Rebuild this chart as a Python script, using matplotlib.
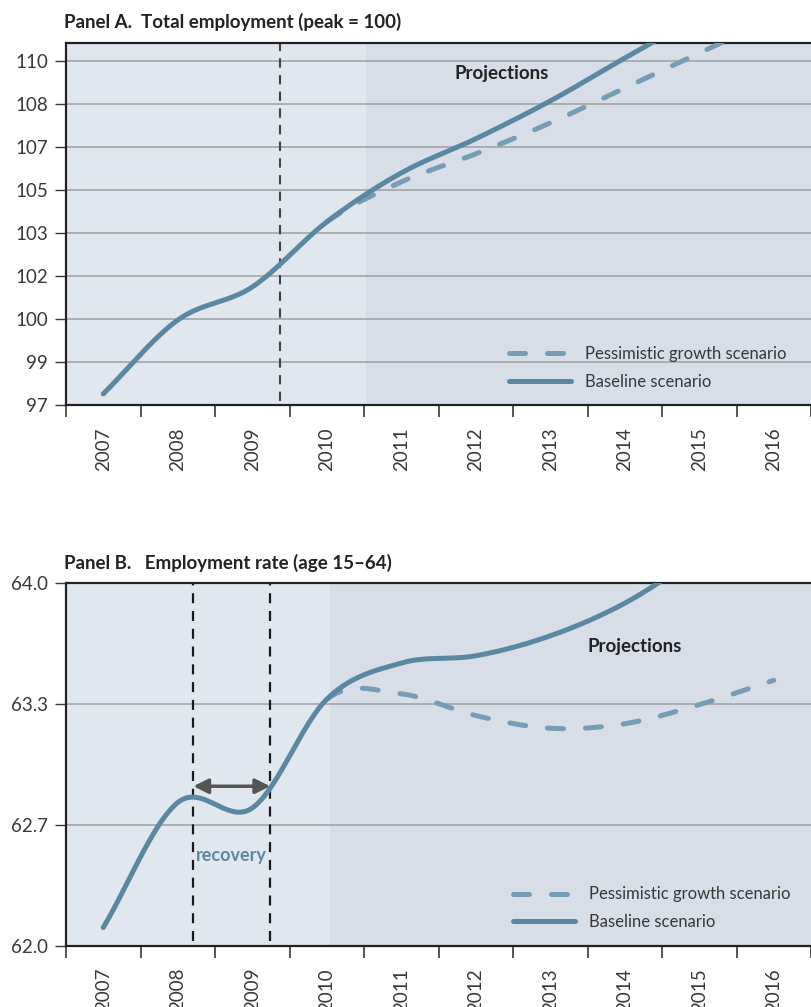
import numpy as np
import matplotlib
matplotlib.use("Agg")
import matplotlib.pyplot as plt

# ---------------- data ----------------
years = [2007, 2008, 2009, 2010, 2011, 2012, 2013, 2014, 2015, 2016]
year_labels = [str(y) for y in years]

emp_baseline = [97.42, 100.21, 101.46, 103.92, 105.77, 107.06, 108.49, 110.11, 111.7, 113.3]
emp_pess_years = [2010, 2011, 2012, 2013, 2014, 2015, 2016]
emp_pessimistic = [103.92, 105.43, 106.49, 107.66, 108.98, 110.30, 111.6]
emp_tick_labels = ["97", "99", "100", "102", "103", "105", "107", "108", "110"]

rate_baseline = [62.10, 62.79, 62.76, 63.36, 63.56, 63.60, 63.71, 63.89, 64.15, 64.40]
rate_pess_years = [2010, 2011, 2012, 2013, 2014, 2015, 2016]
rate_pessimistic = [63.36, 63.39, 63.27, 63.20, 63.225, 63.33, 63.465]
rate_tick_labels = ["62.0", "62.7", "63.3", "64.0"]

emp_marker_year = 2009.37
emp_proj_start = 2010.53
rate_recovery = (2008.21, 2009.24)
rate_proj_start = 2010.05

# ---------------- style ----------------
FONT = ["Lato", "DejaVu Sans"]
plt.rcParams["font.family"] = FONT
C_SOLID = "#5a88a2"
C_DASH = "#779db6"
BG_LEFT = "#e1e7ef"
BG_PROJ = "#d7dee7"
GRID = "#9ea1a5"
SPINE = "#222222"
TXT = "#383838"

W, H = 811, 1007
fig = plt.figure(figsize=(W / 100, H / 100), dpi=100)

XMIN = 2006.5
XMAX = 2006.5 + 745 / 75.5


def smooth(x, y, n=40):
    x = np.asarray(x, float)
    y = np.asarray(y, float)
    m = np.gradient(y, x)
    xs, ys = [], []
    for i in range(len(x) - 1):
        t = np.linspace(0, 1, n, endpoint=(i == len(x) - 2))
        h = x[i + 1] - x[i]
        h00 = 2 * t**3 - 3 * t**2 + 1
        h10 = t**3 - 2 * t**2 + t
        h01 = -2 * t**3 + 3 * t**2
        h11 = t**3 - t**2
        ys.append(h00 * y[i] + h10 * h * m[i] + h01 * y[i + 1] + h11 * h * m[i + 1])
        xs.append(x[i] + t * h)
    return np.concatenate(xs), np.concatenate(ys)


def setup(ax, ylim, yticks, ylabels, proj_start):
    ax.set_xlim(XMIN, XMAX)
    ax.set_ylim(*ylim)
    ax.set_facecolor(BG_LEFT)
    ax.axvspan(proj_start, XMAX + 1, color=BG_PROJ, zorder=0, lw=0)
    ax.set_axisbelow(True)
    ax.set_yticks(yticks)
    ax.set_yticklabels(ylabels)
    ax.yaxis.grid(True, color=GRID, lw=1.1)
    ax.set_xticks(years)
    ax.set_xticklabels(year_labels, rotation=90, va="top", ha="center")
    ax.set_xticks([y - 0.5 for y in years] + [years[-1] + 0.5], minor=True)
    ax.tick_params(axis="x", which="major", length=0, pad=16, labelsize=13.5, labelcolor=TXT)
    ax.tick_params(axis="x", which="minor", length=8.5, width=1.2, color=TXT)
    ax.tick_params(axis="y", length=8, width=1.0, color=TXT, pad=5, labelsize=13.5, labelcolor=TXT)
    for s in ["left", "bottom", "top"]:
        ax.spines[s].set_color(SPINE)
        ax.spines[s].set_linewidth(1.6)
    ax.spines["right"].set_visible(False)


def draw_series(ax, base, pyears, pvals):
    # pessimistic: use previous baseline point for a continuous tangent
    i0 = years.index(pyears[0])
    px, py = smooth([years[i0 - 1]] + list(pyears), [base[i0 - 1]] + list(pvals))
    keep = px >= pyears[0]
    ax.plot(px[keep], py[keep], color=C_DASH, lw=3.6, dashes=(3.2, 4.4),
            dash_capstyle="round", solid_capstyle="round", zorder=3,
            label="Pessimistic growth scenario")
    bx, by = smooth(years, base)
    ax.plot(bx, by, color=C_SOLID, lw=3.6, solid_capstyle="round", zorder=4,
            label="Baseline scenario")


def legend(ax, x0, yc):
    leg = ax.legend(loc="center left", bbox_to_anchor=(x0, yc), frameon=False,
                    borderpad=0, borderaxespad=0, handlelength=3.7, handletextpad=0.85,
                    labelspacing=0.7, prop={"size": 12})
    for t in leg.get_texts():
        t.set_color(TXT)


# ---------------- Panel A ----------------
axA = fig.add_axes([66 / W, 1 - 405 / H, 745 / W, 362 / H])
emp_ticks = list(np.linspace(97, 110, 9))
setup(axA, (97, 110 + 18 / 26.46), emp_ticks, emp_tick_labels, emp_proj_start)
axA.axvline(emp_marker_year, ymin=0.01, ymax=1, color="#444444", lw=1.5, dashes=(4.5, 3.5), zorder=2)
draw_series(axA, emp_baseline, emp_pess_years, emp_pessimistic)
axA.text(2012.35, 109.51, "Projections", ha="center", va="center", fontsize=13.5,
         fontweight="bold", color="#222222")
legend(axA, (509 - 66) / 745, (405 - 368) / 362)
fig.text(64 / W, 1 - 22 / H, "Panel A.  Total employment (peak = 100)", ha="left", va="center",
         fontsize=13.5, fontweight="bold", color="#222222")

# ---------------- Panel B ----------------
axB = fig.add_axes([66 / W, 1 - 945.7 / H, 745 / W, 362.4 / H])
rate_ticks = list(np.linspace(62, 64, 4))
setup(axB, (62, 64), rate_ticks, rate_tick_labels, rate_proj_start)
for xv in rate_recovery:
    axB.axvline(xv, ymin=0.012, ymax=1, color="#1a1a1a", lw=1.6, dashes=(4.5, 3.5), zorder=2)
draw_series(axB, rate_baseline, rate_pess_years, rate_pessimistic)
axB.annotate("", xy=(rate_recovery[0], 62.88), xytext=(rate_recovery[1], 62.88),
             arrowprops=dict(arrowstyle="<|-|>", color="#555555", lw=2.5,
                             mutation_scale=22, shrinkA=0, shrinkB=0), zorder=5)
axB.text(np.mean(rate_recovery), 62.5, "recovery", ha="center", va="center", fontsize=13,
         fontweight="bold", color=C_SOLID)
axB.text(2014.13, 63.65, "Projections", ha="center", va="center", fontsize=13.5,
         fontweight="bold", color="#222222")
legend(axB, (513 - 66) / 745, (945.7 - 908.3) / 362.4)
fig.text(64 / W, 1 - 563 / H, "Panel B.   Employment rate (age 15\u201364)", ha="left", va="center",
         fontsize=13.5, fontweight="bold", color="#222222")

fig.savefig("out.png", dpi=100)
